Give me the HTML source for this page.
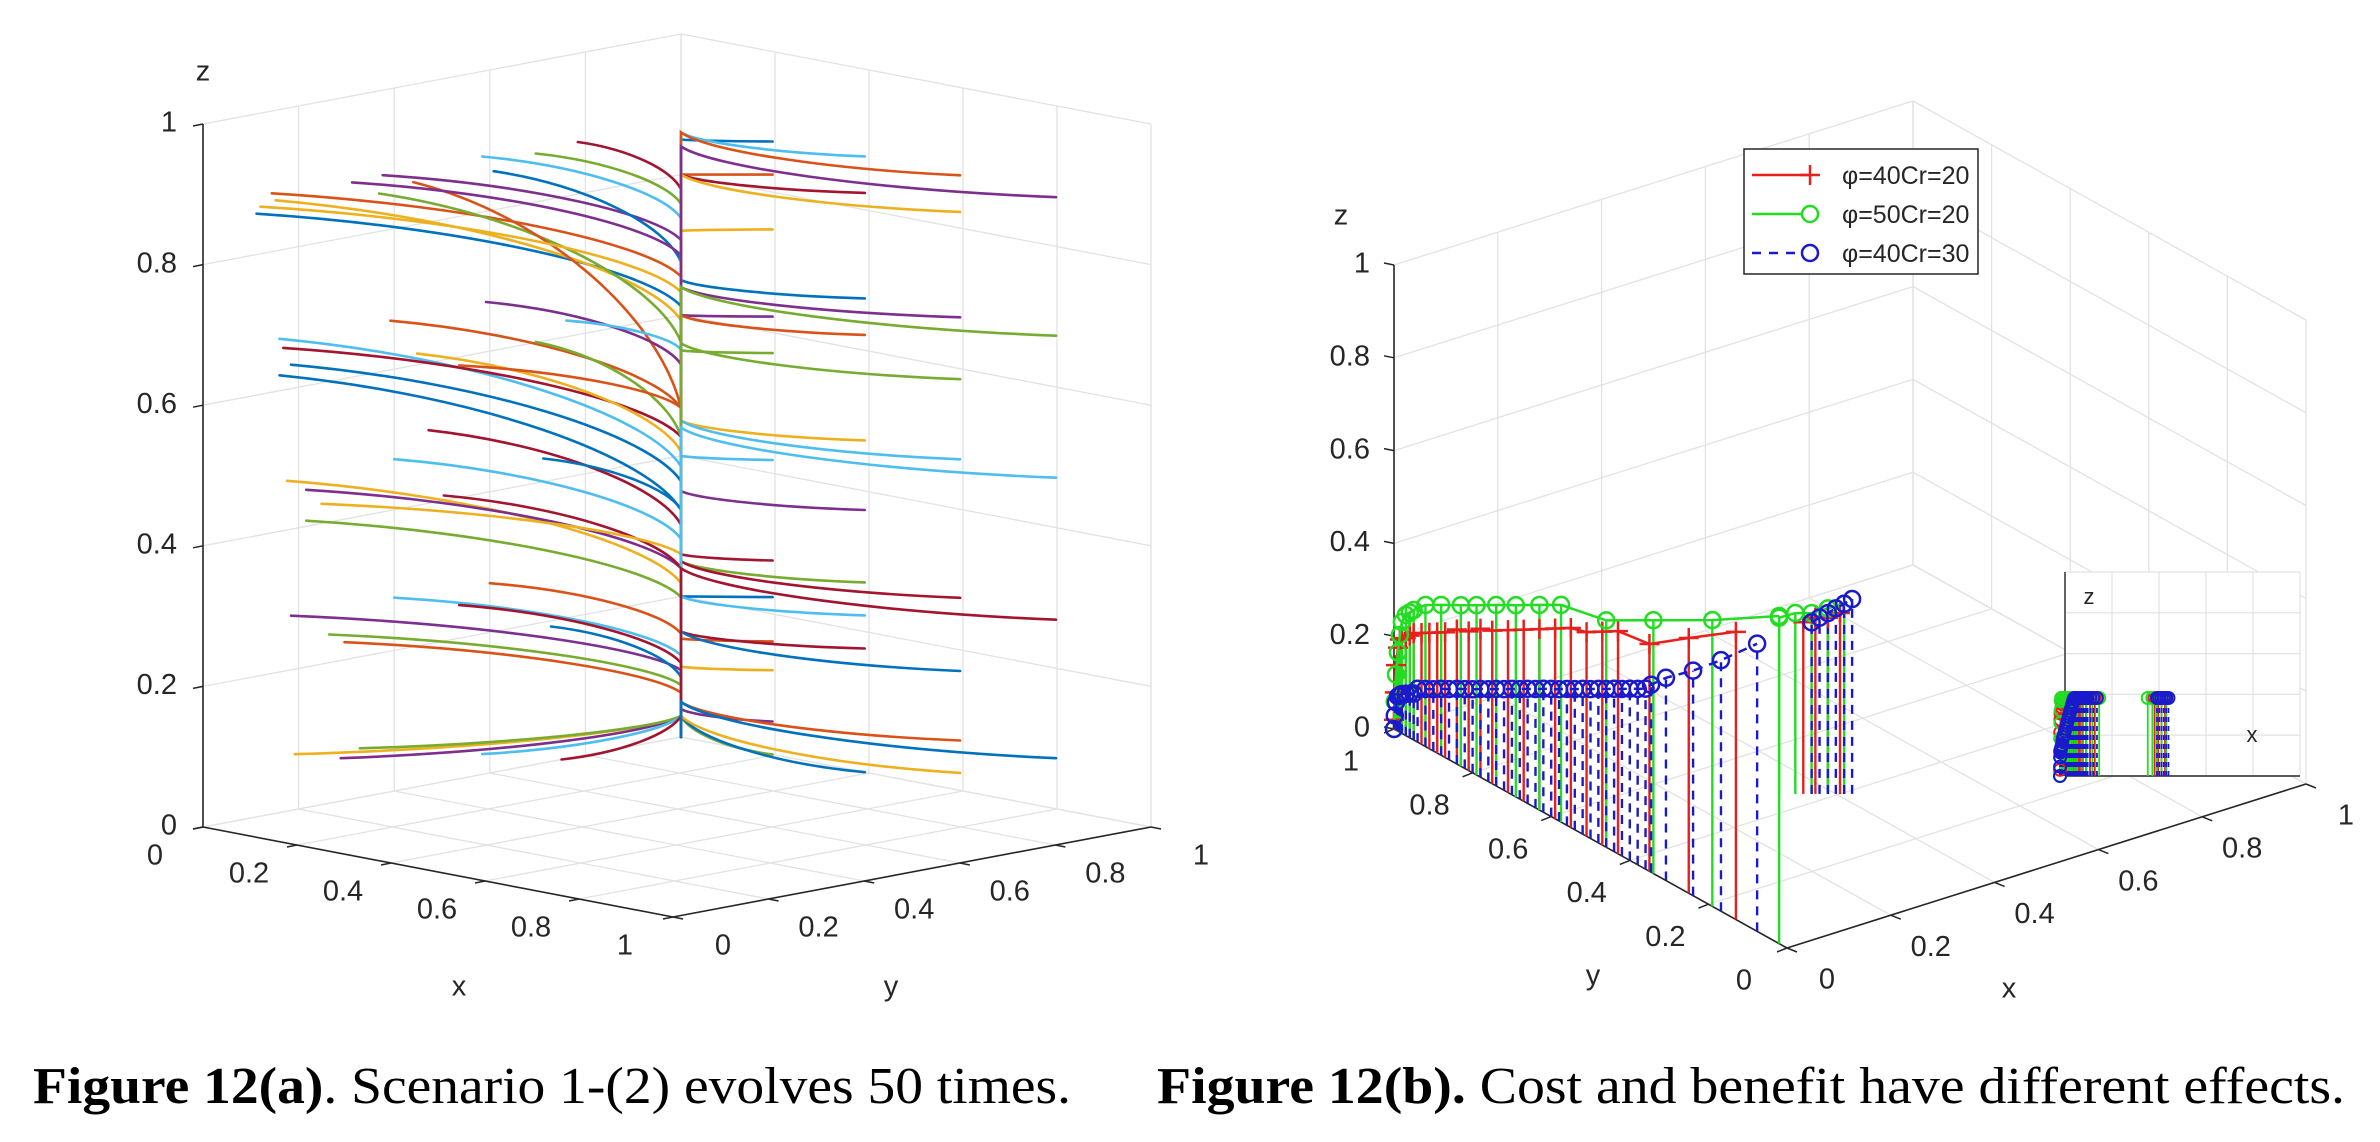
<!DOCTYPE html>
<html><head><meta charset="utf-8"><style>
html,body{margin:0;padding:0;background:#fff;}
svg{display:block;}
text{font-family:"Liberation Sans",sans-serif;fill:#262626;}
.cap{font-family:"Liberation Serif",serif;fill:#000;}
</style></head><body>
<svg id="fig" width="2380" height="1142" viewBox="0 0 2380 1142" xmlns="http://www.w3.org/2000/svg">
<g id="panelA"></g>
<g id="panelB"></g>
<g id="legend">
<rect x="1744" y="149" width="234" height="125" fill="#fff" stroke="#262626" stroke-width="1.5"/>
<g><line x1="1752" y1="175" x2="1810" y2="175" stroke="#e8201c" stroke-width="2.5"/><line x1="1810" y1="165" x2="1810" y2="185" stroke="#e8201c" stroke-width="2.5"/><line x1="1800" y1="175" x2="1820" y2="175" stroke="#e8201c" stroke-width="2.5"/><text x="1842" y="184" font-size="25">φ=40Cr=20</text></g>
<g><line x1="1752" y1="214" x2="1802" y2="214" stroke="#22dd22" stroke-width="2.5"/><circle cx="1810" cy="214" r="8" fill="none" stroke="#22dd22" stroke-width="2.5"/><text x="1842" y="223" font-size="25">φ=50Cr=20</text></g>
<g><line x1="1752" y1="253" x2="1802" y2="253" stroke="#1a1acc" stroke-width="2.5" stroke-dasharray="9,8"/><circle cx="1810" cy="253" r="8" fill="none" stroke="#1a1acc" stroke-width="2.5"/><text x="1842" y="262" font-size="25">φ=40Cr=30</text></g>
</g>
<text class="cap" x="33" y="1103" font-size="52" textLength="1038" lengthAdjust="spacingAndGlyphs"><tspan font-weight="bold">Figure 12(a)</tspan>. Scenario 1-(2) evolves 50 times.</text>
<text class="cap" x="1157" y="1103" font-size="52" textLength="1188" lengthAdjust="spacingAndGlyphs"><tspan font-weight="bold">Figure 12(b).</tspan> Cost and benefit have different effects.</text>
</svg>
<script>
// ---------- Panel A data ----------
const ticks = [0, 0.2, 0.4, 0.6, 0.8, 1];
const tickLabels = ["0", "0.2", "0.4", "0.6", "0.8", "1"];
const leftY0 = [.112,.144,.152,.376,.368,.584,.784,.608,.44,.12,.312,.696, .16,.168,.16,.392,.448,.592,.696,.76,.472,.184,.536, .176,.216,.216,.4,.504,.712,.6,.248, .184,.264,.4,.536,.728,.296, .192,.288,.328,.584,.75];
const leftZ0 = [.858,.883,.872,.879,.854,.879,.874,.855,.861,.867,.877,.869, .674,.66,.622,.67,.616,.671,.601,.623,.504,.634,.588, .47,.452,.408,.472,.407,.433,.27,.428, .277,.24,.275,.247,.192,.225, .079,.061,.07,.029,.0];
const leftZj = [.613,.655,.593,.707,.562,.738,.779,.676,.468,.633,.685,.758, .385,.427,.323,.468,.406,.53,.427,.551,.302,.364,.468, .219,.24,.199,.282,.24,.323,.147,.26, .095,.074,.116,.105,.085,.063, .03,.03,.03,.03,.03];
const rightX0 = [.195,.195,.195,.195,.195,.195,.195,.195,.195,.195,.195,.195, .391,.391,.391,.391,.391,.391,.391,.391,.391,.391, .594,.594,.594,.594,.594,.594,.594,.594,.594, .798,.798,.798,.798,.798];
const rightZ0 = [.872,.825,.747,.623,.571,.419,.276,.224,.161,.12,.047,0, .876,.824,.674,.622,.472,.373,.27,.223,.176,0, .875,.823,.673,.585,.471,.274,.17,.071,.025, .87,.673,.471,.269,.072];
const rightZj = [.85,.8,.72,.6,.55,.4,.26,.2,.14,.1,.04,.03, .86,.8,.65,.6,.45,.35,.25,.2,.15,.03, .86,.8,.64,.56,.45,.25,.15,.05,.03, .84,.64,.44,.24,.05];
const trunkEndZ = 0.0;
// ---------- Panel B data ----------
const redX = [0,0,0,0,0,0,0,0,0,0,0,0,0,0,0,0,0,0,0,0,0,0,0,0,0,0,0,0,.36,.375,.39,.405];
const redY = [1,.998,.995,.99,.985,.98,.97,.96,.95,.93,.91,.89,.87,.84,.81,.78,.75,.71,.67,.63,.59,.55,.51,.47,.43,.35,.25,.13,.434,.423,.411,.4];
const redZ = [.02,.08,.14,.18,.2,.205,.21,.22,.23,.24,.25,.26,.27,.29,.30,.32,.33,.35,.37,.39,.41,.43,.44,.46,.48,.49,.55,.62,.37,.38,.38,.39];
const greenX = [0,0,0,0,0,0,0,0,0,0,0,0,0,0,0,0,0,0,0,0,0,.33,.35,.37,.39,.41];
const greenY = [1,.998,.995,.99,.985,.98,.97,.96,.95,.92,.88,.83,.79,.74,.69,.63,.575,.46,.34,.19,.02,.456,.441,.426,.411,.396];
const greenZ = [0,.06,.12,.17,.21,.24,.26,.27,.28,.305,.324,.347,.366,.39,.413,.442,.468,.489,.546,.617,.706,.38,.39,.39,.40,.41];
const blueX = [0,0,0,0,0,0,0,0,0,0,0,0,0,0,0,0,0,0,0,0,0,0,0,0,0,0,0,0,0,0,0,0,0,0,0,0,0,0,0,0,0,0,0,0,.37,.38,.39,.40,.41,.42];
const blueY = [1,.998,.995,.99,.985,.98,.97,.96,.95,.94,.92,.9,.88,.86,.84,.82,.8,.78,.76,.74,.72,.7,.68,.66,.64,.62,.6,.58,.56,.54,.52,.5,.48,.46,.44,.42,.4,.38,.36,.346,.308,.239,.168,.076,.426,.419,.411,.404,.396,.389];
const blueZ = [0,.03,.06,.075,.08,.085,.09,.095,.10,.115,.124,.133,.143,.152,.162,.171,.18,.19,.199,.209,.218,.228,.237,.247,.256,.266,.275,.284,.294,.303,.313,.322,.332,.341,.351,.36,.37,.379,.389,.404,.437,.485,.541,.62,.37,.38,.39,.40,.41,.42];

const NS = "http://www.w3.org/2000/svg";
const colors = ["#0072BD","#D95319","#EDB120","#7E2F8E","#77AC30","#4DBEEE","#A2142F"];
function mk(tag, parent, attrs) {
  const e = document.createElementNS(NS, tag);
  for (const k in attrs) e.setAttribute(k, attrs[k]);
  parent.appendChild(e);
  return e;
}
function pL(x, y, z) { return [203 + 470 * x + 478 * y, 827 + 90 * x - 90 * y - 703 * z]; }
function pR(x, y, z) { return [1787 + 519 * x - 393 * y, 948 - 164 * x - 219 * y - 464 * z]; }
function seg(parent, a, b, stroke, w, name) {
  const l = mk("line", parent, {x1: a[0], y1: a[1], x2: b[0], y2: b[1], stroke: stroke, "stroke-width": w});
  
  
  return l;
}
function label(parent, p, txt, anchor, size, name) {
  const t = mk("text", parent, {x: p[0], y: p[1], "font-size": size, "text-anchor": anchor, "dominant-baseline": "middle"});
  t.textContent = txt;
  
  
  return t;
}
const GRID = "#e2e2e2";

// ---------------- Panel A ----------------
const A = document.getElementById("panelA");
const gA = mk("g", A, {});


ticks.forEach(t => {
  seg(gA, pL(0, t, 0), pL(0, t, 1), GRID, 1.3, 'gridline');
  seg(gA, pL(0, 0, t), pL(0, 1, t), GRID, 1.3, 'gridline');
  seg(gA, pL(t, 1, 0), pL(t, 1, 1), GRID, 1.3, 'gridline');
  seg(gA, pL(0, 1, t), pL(1, 1, t), GRID, 1.3, 'gridline');
  seg(gA, pL(t, 0, 0), pL(t, 1, 0), GRID, 1.3, 'gridline');
  seg(gA, pL(0, t, 0), pL(1, t, 0), GRID, 1.3, 'gridline');
});
const curvesA = mk("g", A, {fill: "none", "stroke-width": 2.6, "stroke-linecap": "round"});


function traj(S, Q, E, color, name) {
  const c1 = [S[0] + 0.5 * (Q[0] - S[0]), S[1] + 0.15 * (Q[1] - S[1])];
  const c2 = [Q[0] - 0.08 * (Q[0] - S[0]), S[1] + 0.6 * (Q[1] - S[1])];
  const d = "M" + S[0].toFixed(1) + "," + S[1].toFixed(1) + " C" + c1[0].toFixed(1) + "," + c1[1].toFixed(1) + " " + c2[0].toFixed(1) + "," + c2[1].toFixed(1) + " " + Q[0].toFixed(1) + "," + Q[1].toFixed(1) + " L" + E[0].toFixed(1) + "," + E[1].toFixed(1);
  const p = mk("path", curvesA, {d: d, stroke: color});
  
  
}
let ci = 0;
const E0 = pL(0, 1, trunkEndZ);
for (let i = 0; i < leftY0.length; i++) {
  traj(pL(0, leftY0[i], leftZ0[i]), pL(0, 1, leftZj[i]), E0, colors[ci++ % 7], 'trajectory-left');
}
for (let i = 0; i < rightX0.length; i++) {
  traj(pL(rightX0[i], 1, rightZ0[i]), pL(0, 1, rightZj[i]), E0, colors[ci++ % 7], 'trajectory-right');
}
const axA = mk("g", A, {});


seg(axA, pL(0, 0, 0), pL(0, 0, 1), "#262626", 1.6, 'z-axis-line');
seg(axA, pL(0, 0, 0), pL(1, 0, 0), "#262626", 1.6, 'x-axis-line');
seg(axA, pL(1, 0, 0), pL(1, 1, 0), "#262626", 1.6, 'y-axis-line');
ticks.forEach((t, i) => {
  const pz = pL(0, 0, t);
  seg(axA, pz, [pz[0] - 10, pz[1] + 2], "#262626", 1.5, 'z-tick');
  label(axA, [pz[0] - 26, pz[1]], tickLabels[i], "end", 29, 'z-tick-label');
  const px = pL(t, 0, 0);
  seg(axA, px, [px[0] - 10, px[1] + 2], "#262626", 1.5, 'x-tick');
  label(axA, [px[0] - 48, px[1] + 30], tickLabels[i], "middle", 29, 'x-tick-label');
  const py = pL(1, t, 0);
  seg(axA, py, [py[0] + 10, py[1] + 2], "#262626", 1.5, 'y-tick');
  label(axA, [py[0] + 50, py[1] + 30], tickLabels[i], "middle", 29, 'y-tick-label');
});
label(axA, [203, 73], "z", "middle", 29, 'z-axis-title');
label(axA, [459, 988], "x", "middle", 29, 'x-axis-title');
label(axA, [891, 988], "y", "middle", 29, 'y-axis-title');

// ---------------- Panel B ----------------
const B = document.getElementById("panelB");
const gB = mk("g", B, {});


ticks.forEach(t => {
  seg(gB, pR(1, t, 0), pR(1, t, 1), GRID, 1.3, 'gridline');
  seg(gB, pR(1, 0, t), pR(1, 1, t), GRID, 1.3, 'gridline');
  seg(gB, pR(t, 1, 0), pR(t, 1, 1), GRID, 1.3, 'gridline');
  seg(gB, pR(0, 1, t), pR(1, 1, t), GRID, 1.3, 'gridline');
  seg(gB, pR(t, 0, 0), pR(t, 1, 0), GRID, 1.3, 'gridline');
  seg(gB, pR(0, t, 0), pR(1, t, 0), GRID, 1.3, 'gridline');
});
const axB = mk("g", B, {});


seg(axB, pR(0, 1, 0), pR(0, 1, 1), "#262626", 1.6, 'z-axis-line');
seg(axB, pR(0, 0, 0), pR(0, 1, 0), "#262626", 1.6, 'y-axis-line');
seg(axB, pR(0, 0, 0), pR(1, 0, 0), "#262626", 1.6, 'x-axis-line');
ticks.forEach((t, i) => {
  const pz = pR(0, 1, t);
  seg(axB, pz, [pz[0] - 10, pz[1] - 2], "#262626", 1.5, 'z-tick');
  label(axB, [pz[0] - 24, pz[1]], tickLabels[i], "end", 29, 'z-tick-label');
  const py = pR(0, t, 0);
  seg(axB, py, [py[0] - 10, py[1] + 4], "#262626", 1.5, 'y-tick');
  label(axB, [py[0] - 43, py[1] + 34], tickLabels[i], "middle", 29, 'y-tick-label');
  const px = pR(t, 0, 0);
  seg(axB, px, [px[0] + 10, px[1] + 4], "#262626", 1.5, 'x-tick');
  label(axB, [px[0] + 40, px[1] + 33], tickLabels[i], "middle", 29, 'x-tick-label');
});
label(axB, [1341, 217], "z", "middle", 29, 'z-axis-title');
label(axB, [1593, 977], "y", "middle", 29, 'y-axis-title');
label(axB, [2009, 990], "x", "middle", 29, 'x-axis-title');

const series = [
  {name: "red", X: redX, Y: redY, Z: redZ, color: "#e8201c", dash: null, marker: "plus"},
  {name: "green", X: greenX, Y: greenY, Z: greenZ, color: "#22dd22", dash: null, marker: "circle"},
  {name: "blue", X: blueX, Y: blueY, Z: blueZ, color: "#1a1acc", dash: "9,7", marker: "circle"}
];
const stemsG = mk("g", B, {});


series.forEach(s => {
  for (let i = 0; i < s.Y.length; i++) {
    const l = seg(stemsG, pR(s.X[i], s.Y[i], 0), pR(s.X[i], s.Y[i], s.Z[i]), s.color, 2.4, 'stem-' + s.name);
    if (s.dash) l.setAttribute("stroke-dasharray", s.dash);
  }
});
const markG = mk("g", B, {fill: "none", "stroke-width": 2.5});


function marker(parent, p, s, name) {
  if (s.marker === "plus") {
    seg(parent, [p[0] - 10, p[1]], [p[0] + 10, p[1]], s.color, 2.5, name);
    seg(parent, [p[0], p[1] - 10], [p[0], p[1] + 10], s.color, 2.5, name);
  } else {
    const c = mk("circle", parent, {cx: p[0], cy: p[1], r: 8, stroke: s.color});
    
    
  }
}
series.forEach(s => {
  let d = "";
  for (let i = 0; i < s.Y.length; i++) {
    const p = pR(s.X[i], s.Y[i], s.Z[i]);
    const jump = i > 0 && Math.abs(s.X[i] - s.X[i - 1]) > 0.2;
    d += (i === 0 || jump ? "M" : "L") + p[0].toFixed(1) + "," + p[1].toFixed(1);
  }
  const pl = mk("path", markG, {d: d, stroke: s.color});
  if (s.dash) pl.setAttribute("stroke-dasharray", s.dash);
  
  
  for (let i = 0; i < s.Y.length; i++) marker(markG, pR(s.X[i], s.Y[i], s.Z[i]), s, 'marker-' + s.name);
});

// ---------------- Inset ----------------
const inset = mk("g", B, {});


const ibg = mk("rect", inset, {x: 2065, y: 572, width: 235, height: 204, fill: "#fff"});


function pI(x, y, z) { return [2060 + 200 * x + 40 * (1 - y), 776 - 78 * Math.min(z / 0.25, 1)]; }
ticks.forEach(t => {
  seg(inset, [2065 + 235 * t, 572], [2065 + 235 * t, 776], GRID, 1.2, 'inset-gridline');
  seg(inset, [2065, 776 - 204 * t], [2300, 776 - 204 * t], GRID, 1.2, 'inset-gridline');
});
seg(inset, [2065, 572], [2065, 776], "#262626", 1.4, 'inset-z-axis');
seg(inset, [2065, 776], [2300, 776], "#262626", 1.4, 'inset-x-axis');
label(inset, [2089, 598], "z", "middle", 22, 'inset-z-title');
label(inset, [2252, 736], "x", "middle", 22, 'inset-x-title');
series.forEach(s => {
  for (let i = 0; i < s.Y.length; i++) {
    const l = seg(inset, pI(s.X[i], s.Y[i], 0), pI(s.X[i], s.Y[i], s.Z[i]), s.color, 1.8, 'inset-stem-' + s.name);
    if (s.dash) l.setAttribute("stroke-dasharray", "5,4");
  }
});
series.forEach(s => {
  for (let i = 0; i < s.Y.length; i++) {
    const p = pI(s.X[i], s.Y[i], s.Z[i]);
    const c = mk("circle", inset, {cx: p[0], cy: p[1], r: 6, fill: "none", stroke: s.color, "stroke-width": 2});
    
    
  }
});
</script>
</body></html>
